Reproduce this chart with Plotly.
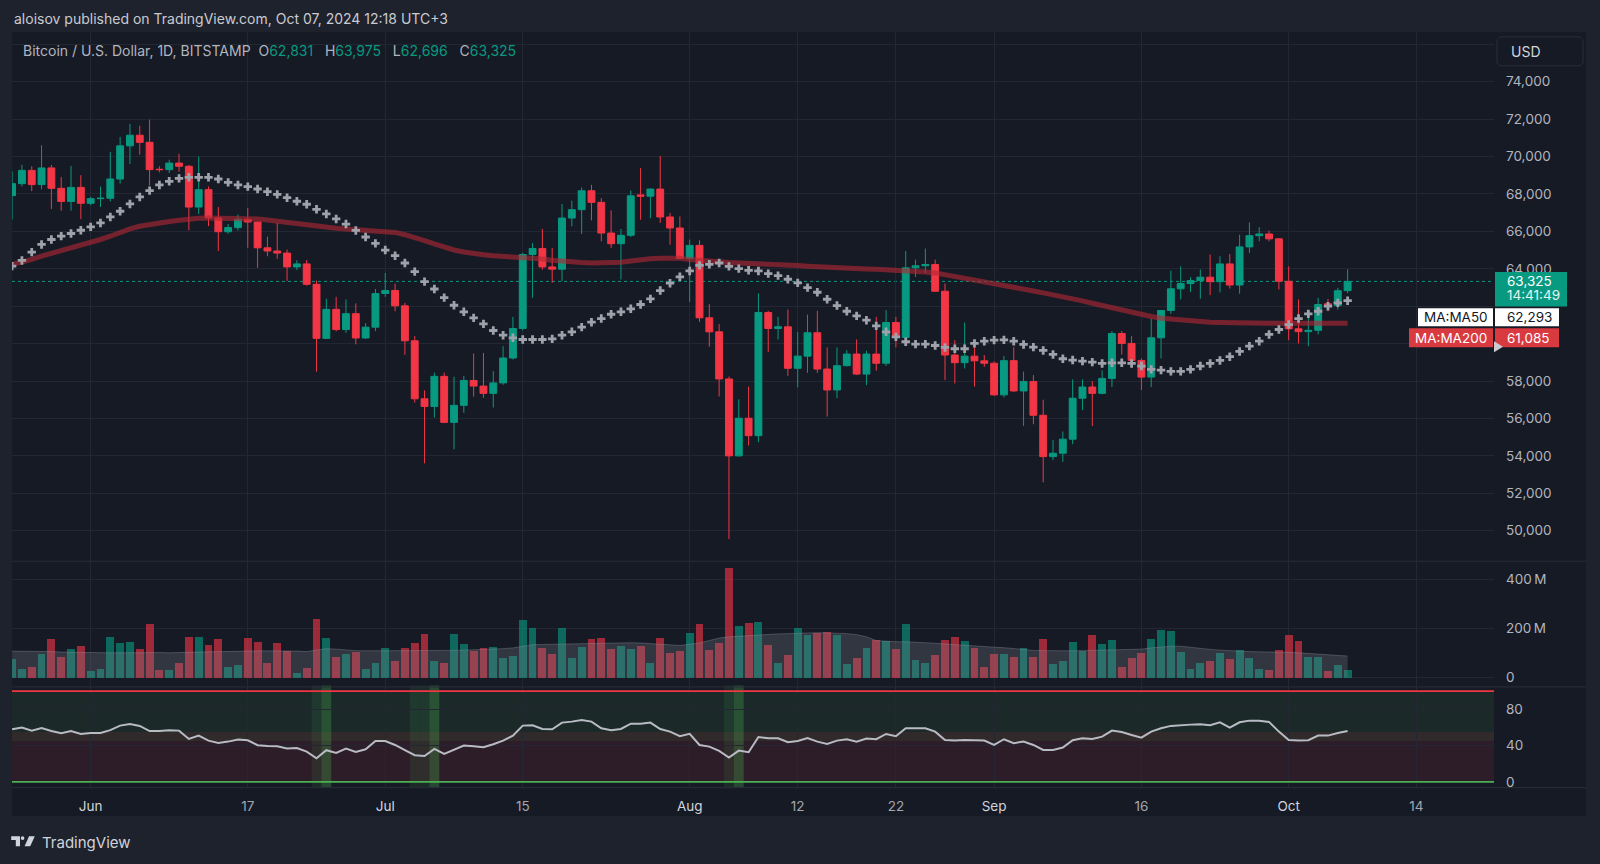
import pandas as pd
import plotly.graph_objects as go

W, H = 1600, 864

# ---- data ----
dates = pd.date_range("2024-05-24", "2024-10-07", freq="D")

opens = [67910, 68550, 69260, 68500, 69390, 68300, 67600, 68350, 67500, 67750,
         67770, 68800, 70570, 71140, 70760, 69320, 69300, 69650, 69480, 67300,
         68230, 66720, 65980, 66200, 66640, 66500, 65120, 64950, 64840, 64100,
         64260, 63170, 60280, 61830, 60750, 61600, 60300, 60880, 62680, 62840,
         62020, 60150, 57050, 56640, 58250, 55790, 56700, 58030, 57730, 57340,
         57900, 59230, 60810, 64760, 65080, 64100, 63980, 66710, 67160, 68170,
         67550, 65910, 65340, 65790, 67950, 67880, 68260, 66770, 66180, 64560,
         65250, 61380, 60630, 58110, 54000, 56010, 55080, 61660, 60810, 60900,
         58680, 59330, 60580, 58640, 57520, 58820, 59440, 58370, 59440, 58950,
         61130, 60330, 64050, 64160, 64230, 62800, 59390, 58980, 59330, 59080,
         58950, 57260, 59090, 57470, 57970, 56170, 53960, 54140, 54890, 57080,
         57680, 57340, 58140, 60540, 60010, 59100, 58210, 60310, 61770, 62930,
         63210, 63370, 63550, 63310, 64260, 63130, 65170, 65770, 65860, 65600,
         63330, 60790, 60640, 60710, 62130, 62040, 62831]

highs = [69210, 69560, 69480, 70600, 69550, 68900, 69500, 69000, 67850, 68400,
         70250, 71050, 71750, 71650, 71970, 69480, 69830, 70150, 69550, 70000,
         68400, 67300, 66400, 66900, 67250, 66500, 65720, 66450, 65030, 64460,
         64470, 63370, 62400, 62500, 62360, 62150, 61100, 62920, 63780, 63200,
         62180, 60400, 57500, 58450, 58450, 58230, 58270, 59470, 59500, 58530,
         59860, 61430, 64850, 65380, 66130, 65110, 67460, 67640, 68350, 68490,
         67780, 67120, 66130, 68190, 69380, 68300, 70030, 66980, 66800, 65560,
         65520, 62110, 61040, 58240, 57020, 57700, 62680, 61750, 61430, 61820,
         60630, 61550, 61750, 59800, 59800, 59650, 60220, 59620, 61430, 61790,
         61430, 64950, 64490, 65080, 64490, 63210, 60190, 61130, 59830, 59390,
         59050, 59330, 59810, 58500, 58320, 57000, 54850, 55300, 58090, 58090,
         58000, 58570, 60670, 60670, 60400, 59210, 61320, 61800, 63900, 64130,
         63550, 63960, 64760, 64670, 64790, 65820, 66480, 66230, 66040, 65640,
         64130, 62360, 61470, 62450, 62390, 62980, 63975]

lows = [66630, 68400, 68150, 68250, 67200, 67100, 67100, 66650, 67400, 67300,
        67600, 68550, 69600, 70100, 68450, 69150, 69120, 69190, 66060, 66930,
        66280, 64950, 65870, 66050, 65120, 64050, 64670, 64530, 63340, 63930,
        63100, 58500, 60250, 60660, 60580, 59960, 60250, 60670, 62500, 61730,
        59400, 56850, 53600, 56050, 55750, 54350, 56300, 57160, 57100, 56580,
        57800, 59150, 60700, 62450, 63950, 63250, 63330, 66270, 65860, 66590,
        65470, 65110, 63420, 65700, 66620, 66700, 66450, 65290, 64520, 62230,
        61160, 59830, 57170, 49550, 53950, 54550, 54730, 59560, 60220, 58280,
        57660, 58440, 58440, 56100, 57080, 58780, 58320, 57780, 58550, 58800,
        59800, 60330, 63560, 63780, 62770, 58050, 57870, 58670, 57700, 58760,
        57200, 57130, 57410, 55600, 55690, 52580, 53770, 53680, 54620, 56450,
        55600, 57290, 57680, 59420, 58740, 57520, 57680, 59210, 61590, 62360,
        62760, 62400, 62590, 62740, 62940, 62670, 64840, 65470, 65470, 62890,
        60180, 60010, 59860, 60490, 61730, 61820, 62696]

closes = [68550, 69260, 68500, 69390, 68300, 67600, 68350, 67500, 67750, 67770,
          68800, 70570, 71140, 70760, 69300, 69300, 69650, 69480, 67300, 68230,
          66720, 65980, 66200, 66640, 66500, 65120, 64950, 64840, 64100, 64260,
          63170, 60280, 61830, 60750, 61600, 60300, 60880, 62680, 62840, 62020,
          60150, 57050, 56640, 58250, 55790, 56700, 58030, 57730, 57340, 57900,
          59230, 60810, 64760, 65080, 64100, 63980, 66710, 67160, 68170, 67550,
          65910, 65340, 65790, 67900, 67880, 68260, 66770, 66180, 64560, 65250,
          61380, 60630, 58110, 54000, 56010, 55080, 61660, 60810, 60900, 58680,
          59330, 60580, 58640, 57520, 58820, 59440, 58370, 59440, 58950, 61130,
          60330, 64050, 64160, 64230, 62800, 59390, 58980, 59330, 59080, 58950,
          57260, 59090, 57470, 57970, 56170, 53960, 54140, 54890, 57080, 57680,
          57340, 58140, 60540, 60010, 59100, 58210, 60310, 61770, 62930, 63210,
          63370, 63550, 63310, 64260, 63130, 65170, 65770, 65860, 65600, 63330,
          60790, 60640, 60710, 62090, 62040, 62831, 63325]

ma50 = [64140, 64445, 64890, 65300, 65565, 65745, 65885, 66060, 66240, 66450,
        66770, 67075, 67465, 67840, 68180, 68480, 68675, 68835, 68890, 68890,
        68890, 68800, 68620, 68480, 68390, 68265, 68120, 67980, 67800, 67610,
        67450, 67180, 66930, 66665, 66390, 66050, 65700, 65360, 65000, 64700,
        64310, 63850, 63315, 62920, 62460, 62050, 61700, 61375, 61055, 60700,
        60450, 60310, 60220, 60220, 60220, 60255, 60450, 60630, 60880, 61145,
        61340, 61570, 61700, 61860, 62090, 62390, 62835, 63230, 63570, 63885,
        64180, 64240, 64310, 64130, 64010, 63920, 63885, 63740, 63635, 63440,
        63245, 62995, 62745, 62370, 62035, 61730, 61480, 61250, 60950, 60630,
        60360, 60100, 59970, 59970, 59900, 59795, 59725, 59725, 60010, 60130,
        60185, 60200, 60130, 59955, 59810, 59635, 59420, 59190, 59120, 59065,
        59010, 58940, 58975, 58975, 58940, 58800, 58620, 58585, 58515, 58515,
        58620, 58800, 58940, 59100, 59300, 59580, 59865, 60130, 60490, 60755,
        61020, 61340, 61590, 61730, 62000, 62180, 62293]

ma200 = [64230, 64355, 64500, 64675, 64815, 64960, 65100, 65240, 65385, 65565,
         65740, 65955, 66130, 66275, 66380, 66450, 66525, 66595, 66665, 66700,
         66720, 66720, 66720, 66720, 66700, 66665, 66610, 66540, 66470, 66400,
         66345, 66290, 66240, 66165, 66125, 66090, 66070, 66050, 66015, 65945,
         65820, 65680, 65500, 65325, 65145, 65005, 64900, 64810, 64755, 64700,
         64665, 64650, 64630, 64575, 64525, 64455, 64400, 64345, 64330, 64310,
         64310, 64310, 64345, 64420, 64490, 64540, 64560, 64560, 64560, 64490,
         64435, 64400, 64365, 64330, 64310, 64295, 64275, 64275, 64240, 64205,
         64170, 64135, 64100, 64080, 64060, 64045, 64010, 63990, 63975, 63955,
         63940, 63900, 63865, 63830, 63780, 63690, 63580, 63475, 63385, 63280,
         63190, 63100, 63030, 62925, 62815, 62710, 62620, 62530, 62410, 62285,
         62160, 62035, 61910, 61785, 61660, 61555, 61450, 61360, 61305, 61255,
         61220, 61185, 61145, 61130, 61110, 61095, 61090, 61090, 61090, 61090,
         61090, 61090, 61090, 61088, 61087, 61086, 61085]

# volume in millions of USD
volume = [77, 35, 42, 97, 157, 85, 118, 128, 26, 36,
          164, 142, 145, 118, 219, 30, 32, 59, 164, 166,
          134, 157, 43, 50, 161, 145, 61, 142, 107, 19,
          39, 240, 161, 85, 97, 105, 35, 59, 120, 70,
          122, 142, 178, 69, 61, 178, 138, 108, 120, 123,
          82, 88, 234, 204, 122, 97, 201, 80, 126, 158,
          161, 118, 130, 118, 128, 59, 161, 101, 107, 182,
          219, 111, 141, 445, 209, 223, 226, 135, 61, 91,
          203, 172, 181, 188, 172, 54, 81, 119, 154, 149,
          118, 218, 73, 59, 93, 155, 165, 149, 119, 45,
          95, 95, 86, 119, 86, 159, 57, 69, 147, 107,
          172, 138, 154, 45, 82, 101, 158, 195, 191, 105,
          36, 59, 70, 101, 76, 114, 82, 36, 32, 114,
          174, 149, 85, 85, 28, 53, 32]

volume_ma = [107, 107, 106, 105, 105, 103, 102, 101, 101, 100,
             100, 100, 101, 101, 102, 101, 100, 100, 102, 103,
             104, 104, 105, 106, 107, 108, 108, 109, 108, 107,
             105, 112, 117, 115, 111, 109, 108, 108, 108, 107,
             108, 109, 110, 110, 109, 110, 111, 112, 114, 116,
             117, 120, 128, 133, 134, 135, 136, 136, 137, 137,
             138, 139, 140, 141, 140, 138, 136, 133, 130, 135,
             140, 150, 160, 165, 168, 170, 174, 176, 177, 178,
             180, 181, 182, 181, 180, 178, 174, 165, 150, 146,
             145, 145, 144, 142, 139, 136, 133, 129, 126, 124,
             123, 121, 117, 113, 110, 109, 108, 108, 108, 109,
             110, 110, 110, 111, 112, 115, 120, 124, 127, 127,
             122, 118, 114, 111, 108, 106, 105, 104, 104, 103,
             102, 100, 98, 95, 91, 89, 87]

rsi = [58, 60, 56.5, 59.4, 56, 53.6, 56, 52.8, 54, 54,
       57, 62, 63.8, 61.7, 56, 56, 57, 56.5, 47.3, 51,
       45.5, 43, 44.4, 46.6, 45.9, 40.4, 39.6, 39.3, 36.7, 37.4,
       33.4, 26, 34.9, 31.9, 36.7, 33, 36, 45.1, 45.1, 40.7,
       34.9, 29.4, 28.6, 36.3, 30.8, 35.2, 40, 39.3, 38.2, 41.5,
       45.5, 51, 62, 62.4, 58.3, 58, 65.3, 66.4, 68.3, 66.4,
       59.1, 56.9, 58.3, 64.2, 64.2, 65.3, 58.3, 55.4, 50.3, 53,
       40.7, 38.9, 34.1, 26.8, 34.5, 32.7, 49.5, 48.1, 48.1, 43.7,
       45.1, 48.4, 44.4, 41.8, 45.5, 47, 44.4, 47.7, 47, 52.8,
       50.3, 59.1, 59.4, 59.1, 55.4, 46.2, 45.5, 46.2, 45.9, 45.5,
       40.7, 47, 42.6, 44.4, 40.7, 35.2, 35.2, 37.8, 45.9, 48.1,
       47.3, 49.9, 56.5, 55, 51.7, 48.8, 55.4, 59.1, 61.7, 62.8,
       63.1, 63.5, 62.4, 65.7, 59.8, 65.7, 67.5, 67.5, 66.1, 55.4,
       46.2, 45.5, 45.9, 51, 51, 53.9, 56.1]

# days highlighted in the RSI pane
signal_weak_days = ["2024-06-24", "2024-07-04", "2024-07-05", "2024-08-05"]
signal_strong_days = ["2024-06-25", "2024-07-06", "2024-08-06"]

time_tickvals = ["2024-06-01", "2024-06-17", "2024-07-01", "2024-07-15", "2024-08-01",
                 "2024-08-12", "2024-08-22", "2024-09-01", "2024-09-16", "2024-10-01",
                 "2024-10-14"]
time_ticktext = ["Jun", "17", "Jul", "15", "Aug", "12", "22", "Sep", "16", "Oct", "14"]
price_tickvals = [50000, 52000, 54000, 56000, 58000, 60000, 62000,
                  64000, 66000, 68000, 70000, 72000, 74000, 76000]
# levels whose scale label sits under the price / USD boxes
price_hidden_labels = [60000, 62000, 76000]
volume_tickvals = [0, 200, 400]
volume_ticktext = ["0", "200\u2009M", "400\u2009M"]
rsi_tickvals = [0, 40, 80]

# ---- colours ----
UP = "#089981"
DOWN = "#f23645"
BG = "#161a25"
FRAME = "#1e222d"
GRID = "#232733"
SEP = "#2a2e39"
TXT = "#b2b5be"
FONT = "Inter, Roboto, sans-serif"


def px(x):
    return x / W


def py(y):
    return 1 - y / H


def rounded_rect(x0, y0, x1, y1, r):
    pts = [
        f"M {px(x0 + r)},{py(y0)}", f"L {px(x1 - r)},{py(y0)}",
        f"Q {px(x1)},{py(y0)} {px(x1)},{py(y0 + r)}", f"L {px(x1)},{py(y1 - r)}",
        f"Q {px(x1)},{py(y1)} {px(x1 - r)},{py(y1)}", f"L {px(x0 + r)},{py(y1)}",
        f"Q {px(x0)},{py(y1)} {px(x0)},{py(y1 - r)}", f"L {px(x0)},{py(y0 + r)}",
        f"Q {px(x0)},{py(y0)} {px(x0 + r)},{py(y0)}", "Z",
    ]
    return " ".join(pts)


X_DOM = [px(12), px(1494)]
X_RANGE = ["2024-05-23 23:45", "2024-10-21 21:45"]

vol_colors = ["rgba(8,153,129,0.62)" if c >= o else "rgba(242,54,69,0.62)"
              for o, c in zip(opens, closes)]

fig = go.Figure()

# price pane
fig.add_trace(go.Scatter(x=dates, y=ma200, mode="lines",
                         line=dict(color="rgba(178,40,51,0.62)", width=5),
                         xaxis="x", yaxis="y"))
fig.add_trace(go.Scatter(x=dates, y=ma50, mode="markers",
                         marker=dict(symbol="cross", size=7, color="#9fa2ab",
                                     line=dict(width=0)),
                         xaxis="x", yaxis="y"))
fig.add_trace(go.Candlestick(x=dates, open=opens, high=highs, low=lows, close=closes,
                             increasing=dict(line=dict(color=UP, width=1), fillcolor=UP),
                             decreasing=dict(line=dict(color=DOWN, width=1), fillcolor=DOWN),
                             whiskerwidth=0, xaxis="x", yaxis="y"))

# volume pane
fig.add_trace(go.Bar(x=dates, y=volume, marker=dict(color=vol_colors, line=dict(width=0)),
                     width=0.8 * 86400000, xaxis="x2", yaxis="y2"))
fig.add_trace(go.Scatter(x=dates, y=volume_ma, mode="lines", fill="tozeroy",
                         line=dict(color="rgba(150,153,165,0.35)", width=1),
                         fillcolor="rgba(130,134,148,0.26)",
                         xaxis="x2", yaxis="y2"))

# rsi pane
fig.add_trace(go.Scatter(x=dates, y=rsi, mode="lines",
                         line=dict(color="#b8bbc3", width=2),
                         xaxis="x3", yaxis="y3"))

axis_common = dict(range=X_RANGE, type="date", domain=X_DOM, showgrid=True,
                   gridcolor=GRID, gridwidth=1, tickvals=time_tickvals,
                   zeroline=False, showline=False, ticks="")

month_names = {"Jun", "Jul", "Aug", "Sep", "Oct"}
time_labels = [f'<span style="color:#d1d4dc">{t}</span>' if t in month_names else t
               for t in time_ticktext]

fig.update_layout(
    width=W, height=H, margin=dict(l=0, r=0, t=0, b=0),
    paper_bgcolor=FRAME, plot_bgcolor=BG,
    showlegend=False, hovermode=False,
    font=dict(family=FONT, color=TXT, size=13),
    boxgap=0.3, boxgroupgap=0, bargap=0,
    xaxis=dict(anchor="y", showticklabels=False,
               rangeslider=dict(visible=False), **axis_common),
    xaxis2=dict(anchor="y2", matches="x", showticklabels=False, **axis_common),
    xaxis3=dict(anchor="y3", matches="x", showticklabels=True,
                ticktext=time_labels, ticklabelstandoff=9,
                tickfont=dict(size=13.5, color="#a3a6af", family=FONT),
                **axis_common),
    yaxis=dict(domain=[py(562), py(32)], anchor="x", side="right",
               range=[48395, 76661], tickvals=price_tickvals,
               ticktext=["" if v in price_hidden_labels else f"{v:,}" for v in price_tickvals],
               showgrid=True, gridcolor=GRID, zeroline=False, ticks="",
               ticklabelstandoff=11, tickfont=dict(size=13.5, color=TXT)),
    yaxis2=dict(domain=[py(688), py(563)], anchor="x2", side="right",
                range=[-36.5, 470.6], tickvals=volume_tickvals,
                ticktext=volume_ticktext, showgrid=True, gridcolor=GRID,
                zeroline=False, ticks="", ticklabelstandoff=11,
                tickfont=dict(size=13.5, color=TXT)),
    yaxis3=dict(domain=[py(789), py(689)], anchor="x3", side="right",
                range=[-5.8, 104.1], tickvals=rsi_tickvals,
                ticktext=[str(v) for v in rsi_tickvals], showgrid=True,
                gridcolor=GRID, zeroline=False, ticks="", ticklabelstandoff=11,
                tickfont=dict(size=13.5, color=TXT)),
)

shapes = []
# chart body background
shapes.append(dict(type="rect", xref="paper", yref="paper", x0=px(12), x1=px(1586),
                   y0=py(818), y1=py(32), fillcolor=BG, line=dict(width=0), layer="below"))
# rsi zones
shapes.append(dict(type="rect", xref="paper", yref="y3", x0=X_DOM[0], x1=X_DOM[1],
                   y0=45, y1=100, fillcolor="rgba(76,175,80,0.10)", line=dict(width=0),
                   layer="below"))
shapes.append(dict(type="rect", xref="paper", yref="y3", x0=X_DOM[0], x1=X_DOM[1],
                   y0=0, y1=55, fillcolor="rgba(242,54,69,0.10)", line=dict(width=0),
                   layer="below"))
half_day = pd.Timedelta(hours=12)
for d in signal_weak_days:
    t = pd.Timestamp(d)
    shapes.append(dict(type="rect", xref="x3", yref="paper",
                       x0=str(t - half_day), x1=str(t + half_day),
                       y0=py(789), y1=py(687), fillcolor="rgba(76,175,80,0.12)",
                       line=dict(width=0), layer="below"))
for d in signal_strong_days:
    t = pd.Timestamp(d)
    shapes.append(dict(type="rect", xref="x3", yref="paper",
                       x0=str(t - half_day), x1=str(t + half_day),
                       y0=py(789), y1=py(687), fillcolor="rgba(76,175,80,0.30)",
                       line=dict(width=0), layer="below"))
# rsi bounds
shapes.append(dict(type="line", xref="paper", yref="y3", x0=X_DOM[0], x1=X_DOM[1],
                   y0=100, y1=100, line=dict(color="#f23645", width=1.6)))
shapes.append(dict(type="line", xref="paper", yref="y3", x0=X_DOM[0], x1=X_DOM[1],
                   y0=0, y1=0, line=dict(color="#4caf50", width=1.6)))
# last price dotted line
shapes.append(dict(type="line", xref="paper", yref="y", x0=X_DOM[0], x1=X_DOM[1],
                   y0=closes[-1], y1=closes[-1], line=dict(color=UP, width=1, dash="dot"),
                   layer="below"))
# pane separators
for yy in (562.5, 688.5, 789.5):
    shapes.append(dict(type="line", xref="paper", yref="paper", x0=px(12), x1=px(1586),
                       y0=py(yy), y1=py(yy), line=dict(color=SEP, width=1)))
# price scale labels
shapes.append(dict(type="rect", xref="paper", yref="paper", x0=px(1495), x1=px(1567),
                   y0=py(307.3), y1=py(272.7), fillcolor=UP, line=dict(width=0)))
shapes.append(dict(type="rect", xref="paper", yref="paper", x0=px(1418), x1=px(1493),
                   y0=py(327), y1=py(309), fillcolor="#ffffff", line=dict(width=0)))
shapes.append(dict(type="rect", xref="paper", yref="paper", x0=px(1495), x1=px(1559),
                   y0=py(327), y1=py(309), fillcolor="#ffffff", line=dict(width=0)))
shapes.append(dict(type="rect", xref="paper", yref="paper", x0=px(1409), x1=px(1493),
                   y0=py(348), y1=py(329), fillcolor="#d93a3f", line=dict(width=0)))
shapes.append(dict(type="rect", xref="paper", yref="paper", x0=px(1495), x1=px(1559),
                   y0=py(348), y1=py(329), fillcolor="#d93a3f", line=dict(width=0)))
shapes.append(dict(type="path", xref="paper", yref="paper",
                   path=f"M {px(1494)},{py(342)} L {px(1503)},{py(347.5)} L {px(1494)},{py(353)} Z",
                   fillcolor="#c9cbd1", line=dict(width=0)))
# USD box
shapes.append(dict(type="path", xref="paper", yref="paper",
                   path=rounded_rect(1497, 37, 1583, 66, 5),
                   fillcolor=BG, line=dict(color=SEP, width=1)))
# TradingView logo
logo = "#d1d4dc"
shapes.append(dict(type="path", xref="paper", yref="paper",
                   path=(f"M {px(11.2)},{py(838.3)} L {px(20)},{py(838.3)} L {px(20)},{py(848.3)} "
                         f"L {px(15.8)},{py(848.3)} L {px(15.8)},{py(842)} L {px(11.2)},{py(842)} Z"),
                   fillcolor=logo, line=dict(width=0)))
shapes.append(dict(type="circle", xref="paper", yref="paper",
                   x0=px(20.8), x1=px(24.4), y0=py(841.9), y1=py(838.3),
                   fillcolor=logo, line=dict(width=0)))
shapes.append(dict(type="path", xref="paper", yref="paper",
                   path=(f"M {px(29)},{py(838.3)} L {px(34.8)},{py(838.3)} L {px(30.2)},{py(848.3)} "
                         f"L {px(24.6)},{py(848.3)} Z"),
                   fillcolor=logo, line=dict(width=0)))

fig.update_layout(shapes=shapes)


def label(x, y, text, color, size=13.5, xanchor="left"):
    return dict(x=px(x), y=py(y), xref="paper", yref="paper", text=text,
                showarrow=False, xanchor=xanchor, yanchor="middle",
                font=dict(family=FONT, size=size, color=color))


def green(v):
    return f'<span style="color:{UP}">{v:,}</span>'


legend_text = ("Bitcoin / U.S. Dollar, 1D, BITSTAMP&nbsp;&nbsp;"
               f"O{green(opens[-1])}&nbsp;&nbsp;&nbsp;H{green(highs[-1])}&nbsp;&nbsp;&nbsp;"
               f"L{green(lows[-1])}&nbsp;&nbsp;&nbsp;C{green(closes[-1])}")

annotations = [
    label(12, 19, "aloisov published on TradingView.com, Oct 07, 2024 12:18 UTC+3", "#c9cbd1", 14),
    label(21, 51, legend_text, TXT, 14),
    label(1509, 52, "USD", "#d1d4dc", 14),
    label(1505, 282, f"{closes[-1]:,}", "#ffffff"),
    label(1505, 296, "14:41:49", "#e6f4f1"),
    label(1455.5, 318, "MA:MA50", "#131722", 13.5, "center"),
    label(1505, 318, f"{ma50[-1]:,}", "#131722"),
    label(1451, 338.5, "MA:MA200", "#ffffff", 13.5, "center"),
    label(1505, 338.5, f"{ma200[-1]:,}", "#ffffff"),
    label(40, 844.5, "TradingView", "#d1d4dc", 15),
]
fig.update_layout(annotations=annotations)

fig.write_html("out.html", config={"displayModeBar": False},
               post_script="document.body.style.margin='0px';document.body.style.background='#1e222d';")
